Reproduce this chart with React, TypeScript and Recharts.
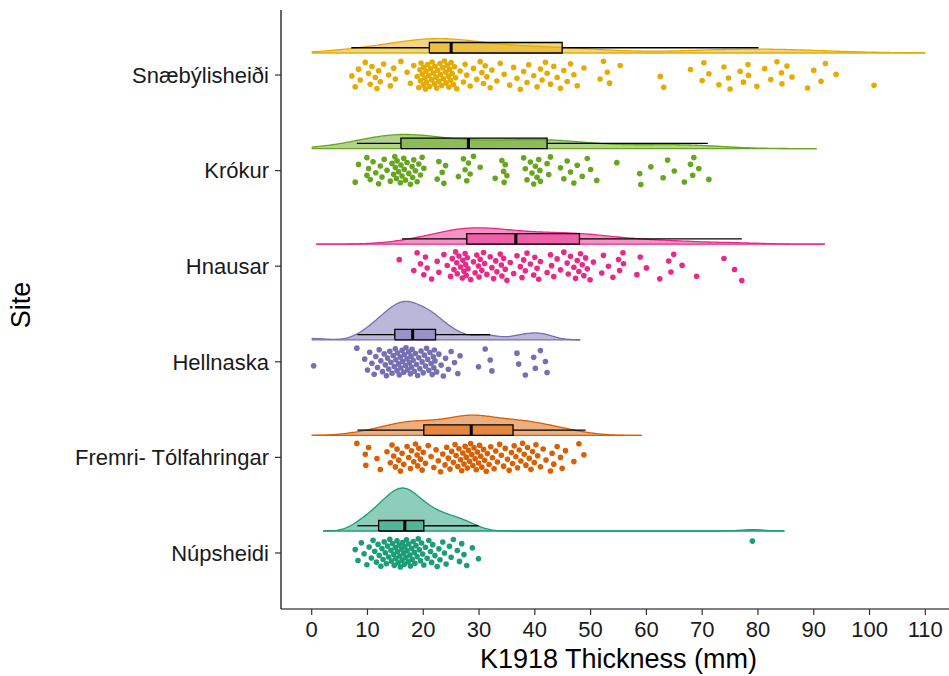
import React from "react";
import { ComposedChart, Area, Line, Scatter, XAxis, YAxis } from "recharts";

// bottom to top, as on the y axis
const SITES = ["Núpsheidi", "Fremri- Tólfahringar", "Hellnaska", "Hnausar", "Krókur", "Snæbýlisheiði"];
const COLORS = ["#1B9E77", "#D95F02", "#7570B3", "#E7298A", "#66A61E", "#E6AB02"];
const X_TICKS = [0, 10, 20, 30, 40, 50, 60, 70, 80, 90, 100, 110];

// K1918 thickness (mm)
const NUP = [
  7.8, 8.3, 8.9, 9.4, 9.9, 10.3, 10.7, 11.0, 11.3, 11.6, 11.9, 12.1, 12.4, 12.6, 12.8, 13.0, 13.2, 13.4, 13.6,
  13.8, 14.0, 14.2, 14.3, 14.5, 14.7, 14.8, 15.0, 15.1, 15.3, 15.4, 15.5, 15.7, 15.8, 15.9, 16.1, 16.2, 16.3,
  16.5, 16.6, 16.7, 16.9, 17.0, 17.1, 17.3, 17.4, 17.6, 17.7, 17.9, 18.0, 18.2, 18.4, 18.5, 18.7, 18.9, 19.1,
  19.3, 19.5, 19.7, 19.9, 20.1, 20.4, 20.7, 21.0, 21.3, 21.5, 21.7, 22.1, 22.5, 22.8, 23.0, 23.5, 23.8, 24.1,
  24.7, 25.0, 25.4, 26.1, 26.5, 26.9, 27.3, 27.8, 28.8, 29.9, 79.0,
];
const FREMRI = [
  8.1, 9.6, 9.7, 10.2, 11.7, 12.3, 13.5, 14.1, 14.4, 14.7, 15.0, 15.3, 15.6, 15.9, 16.2, 16.5, 17.1, 17.4,
  17.7, 17.9, 18.3, 18.6, 18.9, 19.0, 19.2, 19.5, 19.8, 20.0, 20.4, 20.9, 21.4, 21.9, 22.3, 22.7, 23.1, 23.5,
  23.9, 24.2, 24.5, 24.8, 25.1, 25.4, 25.7, 25.9, 26.2, 26.4, 26.7, 26.9, 27.1, 27.3, 27.5, 27.7, 27.9, 28.1,
  28.3, 28.5, 28.7, 28.9, 29.1, 29.3, 29.5, 29.7, 29.9, 30.1, 30.3, 30.5, 30.8, 31.0, 31.3, 31.5, 31.8, 32.1,
  32.4, 32.7, 33.0, 33.3, 33.7, 34.0, 34.4, 34.7, 35.1, 35.4, 35.8, 36.0, 36.3, 36.6, 36.9, 37.2, 37.5, 37.8,
  38.1, 38.4, 38.7, 39.0, 39.3, 39.6, 39.9, 40.2, 40.5, 41.0, 41.5, 42.0, 42.8, 43.1, 43.4, 44.0, 44.6, 44.9,
  45.5, 47.0, 47.9, 48.8,
];
const HELLNASKA = [
  0.35, 8.1, 9.5, 10.0, 10.4, 10.8, 11.2, 11.5, 11.8, 12.1, 12.4, 12.7, 13.0, 13.2, 13.4, 13.6, 13.8, 14.0,
  14.2, 14.4, 14.6, 14.8, 15.0, 15.1, 15.3, 15.4, 15.6, 15.7, 15.9, 16.0, 16.2, 16.3, 16.5, 16.6, 16.8, 16.9,
  17.1, 17.2, 17.4, 17.5, 17.7, 17.8, 17.9, 18.0, 18.2, 18.4, 18.6, 18.8, 19.0, 19.2, 19.4, 19.6, 19.8, 20.0,
  20.2, 20.4, 20.6, 20.8, 21.0, 21.2, 21.4, 21.6, 21.8, 21.9, 22.0, 22.1, 22.4, 22.8, 23.2, 23.6, 24.0, 24.5,
  25.0, 25.6, 26.2, 26.6, 29.9, 31.1, 32.0, 32.3, 36.8, 37.1, 38.3, 39.8, 40.1, 41.0, 41.9, 42.2,
];
const HNAUSAR = [
  15.7, 18.3, 18.9, 19.5, 20.1, 20.4, 20.7, 21.5, 22.5, 22.8, 23.7, 24.3, 24.9, 25.2, 25.5, 25.8, 26.0, 26.1,
  26.4, 26.7, 27.0, 27.1, 27.3, 27.5, 27.6, 27.7, 27.9, 28.0, 28.5, 29.0, 29.3, 29.6, 29.9, 30.0, 30.2, 30.5,
  30.8, 31.0, 31.4, 32.0, 32.3, 32.6, 33.0, 33.2, 33.8, 34.0, 34.1, 34.4, 34.7, 35.0, 35.6, 36.2, 36.8, 37.4,
  37.7, 38.0, 38.3, 38.6, 39.2, 39.8, 40.0, 40.4, 40.7, 41.0, 42.2, 42.8, 43.0, 43.4, 44.0, 44.6, 45.2, 45.8,
  46.0, 46.4, 47.0, 47.3, 47.6, 47.9, 48.2, 48.5, 48.8, 49.1, 49.4, 49.9, 50.5, 52.0, 52.3, 53.2, 54.0, 55.0,
  55.2, 55.8, 55.9, 58.3, 58.9, 60.0, 62.4, 64.0, 64.4, 64.9, 66.4, 69.0, 73.9, 75.8, 77.1,
];
const KROKUR = [
  7.8, 8.4, 9.9, 9.9, 10.2, 10.5, 11.0, 11.5, 12.0, 12.3, 12.6, 13.0, 13.5, 14.1, 14.4, 14.7, 14.9, 15.0,
  15.2, 15.3, 15.6, 15.9, 16.0, 16.2, 16.5, 16.6, 16.8, 17.1, 17.4, 17.7, 18.0, 18.1, 18.3, 18.6, 18.9, 19.2,
  19.5, 19.8, 20.1, 22.5, 22.8, 23.4, 23.7, 24.0, 26.3, 27.2, 27.5, 27.8, 28.1, 28.4, 29.0, 30.2, 32.9, 34.1,
  34.4, 34.5, 34.7, 35.0, 38.0, 38.3, 38.6, 39.2, 39.5, 39.8, 40.1, 40.4, 40.7, 40.9, 41.0, 42.2, 42.5, 42.8,
  44.6, 45.2, 45.8, 46.4, 47.0, 47.6, 48.5, 49.4, 50.0, 51.1, 54.7, 58.8, 59.0, 60.8, 63.0, 63.8, 65.0, 66.8,
  67.9, 68.3, 68.5, 69.4, 71.2,
];
const SNAE = [
  7.2, 7.8, 8.4, 8.7, 9.6, 10.2, 10.5, 10.8, 11.4, 11.7, 12.0, 12.3, 12.9, 13.8, 14.1, 14.7, 15.0, 16.0, 17.1,
  17.7, 18.3, 18.9, 19.2, 19.4, 19.5, 19.6, 19.8, 20.0, 20.1, 20.3, 20.4, 20.5, 20.6, 20.8, 21.0, 21.1, 21.3,
  21.5, 21.6, 21.8, 22.0, 22.1, 22.3, 22.4, 22.6, 22.8, 23.0, 23.1, 23.3, 23.5, 23.6, 23.8, 24.0, 24.1, 24.3,
  24.5, 24.6, 24.7, 24.9, 25.0, 25.2, 25.4, 25.6, 25.8, 26.0, 26.6, 27.2, 27.5, 27.8, 28.4, 29.0, 29.6, 30.2,
  30.5, 30.8, 31.1, 31.4, 32.0, 32.3, 33.2, 33.8, 34.5, 35.5, 36.2, 36.8, 37.4, 38.0, 38.6, 38.9, 39.8, 40.4,
  41.0, 41.3, 41.9, 42.2, 42.8, 43.4, 44.0, 44.6, 45.2, 45.8, 46.4, 47.0, 47.6, 48.8, 51.7, 52.3, 53.0, 53.4,
  55.3, 62.5, 63.1, 67.9, 70.0, 70.3, 71.2, 73.0, 73.9, 74.7, 75.0, 76.8, 77.4, 78.2, 78.3, 79.8, 81.2, 82.3,
  83.4, 84.2, 84.3, 85.2, 86.1, 88.9, 90.0, 91.3, 92.1, 94.0, 100.8,
];
const VALUES = [NUP, FREMRI, HELLNASKA, HNAUSAR, KROKUR, SNAE];

// boxplot stats: [lower whisker, q1, median, q3, upper whisker]
const BOXES = [
  [8.2, 12.0, 16.7, 20.1, 29.9],
  [8.2, 20.1, 28.6, 36.1, 49.1],
  [8.2, 14.9, 18.1, 22.2, 32.0],
  [16.2, 27.8, 36.6, 48.0, 77.1],
  [8.1, 16.0, 28.1, 42.2, 71.0],
  [7.1, 21.1, 25.0, 44.9, 80.1],
];

const X_LIMITS = [0, 110];
const BASE_NUDGE = 0.23; // violin/box sit above each site
const BOX_H = 0.11;
const VIOLIN_MAX = 0.45;
const JITTER = 0.15;
const FONT = "'Liberation Sans', Arial, sans-serif";

function quantile(s: number[], p: number) {
  const h = (s.length - 1) * p;
  const lo = Math.floor(h);
  const hi = Math.min(lo + 1, s.length - 1);
  return s[lo] + (h - lo) * (s[hi] - s[lo]);
}

// R's bw.nrd0
function bandwidth(v: number[]) {
  const s = [...v].sort((a, b) => a - b);
  const mean = v.reduce((a, b) => a + b, 0) / v.length;
  const sd = Math.sqrt(v.reduce((a, b) => a + (b - mean) ** 2, 0) / (v.length - 1));
  const iqr = quantile(s, 0.75) - quantile(s, 0.25);
  return 0.9 * Math.min(sd, iqr / 1.34) * Math.pow(v.length, -0.2);
}

// gaussian kde, cut = 3 bandwidths, clipped to the x scale limits
function density(v: number[], n = 220) {
  const bw = bandwidth(v);
  const lo = Math.max(X_LIMITS[0], Math.min(...v) - 3 * bw);
  const hi = Math.min(X_LIMITS[1], Math.max(...v) + 3 * bw);
  const out: { x: number; d: number }[] = [];
  for (let i = 0; i < n; i++) {
    const x = lo + ((hi - lo) * i) / (n - 1);
    let d = 0;
    for (const p of v) d += Math.exp(-0.5 * ((x - p) / bw) ** 2);
    out.push({ x, d: d / (v.length * bw * Math.sqrt(2 * Math.PI)) });
  }
  return out;
}

const DENS = VALUES.map((v) => density(v));
const DMAX = Math.max(...DENS.flatMap((g) => g.map((p) => p.d)));

// evenly spread, repeatable vertical jitter
const jit = (i: number, g: number) => ((((i + 1) * 0.6180339887 + g * 0.37) % 1) - 0.5) * 2 * JITTER;

const tickStyle = { fontSize: 22, fill: "#1a1a1a", fontFamily: FONT };

export default function App() {
  const series: React.ReactNode[] = [];
  VALUES.forEach((vals, g) => {
    const site = g + 1;
    const color = COLORS[g];
    const b0 = site + BASE_NUDGE;
    const b1 = b0 + BOX_H;
    const bm = (b0 + b1) / 2;
    const [wl, q1, med, q3, wh] = BOXES[g];
    const violin = DENS[g].map((p) => ({ x: p.x, r: [b0, b0 + (p.d / DMAX) * VIOLIN_MAX] }));
    series.push(
      <Area key={`v${g}`} data={violin} dataKey="r" type="linear" stroke={color} strokeWidth={1.3}
        fill={color} fillOpacity={0.5} dot={false} activeDot={false} isAnimationActive={false} />,
      <Area key={`bf${g}`} data={[{ x: q1, r: [b0, b1] }, { x: q3, r: [b0, b1] }]} dataKey="r" type="linear"
        stroke="none" fill={color} fillOpacity={0.5} dot={false} activeDot={false} isAnimationActive={false} />,
    );
    const seg = (k: string, pts: { x: number; y: number }[], w = 1.3) => (
      <Line key={k} data={pts} dataKey="y" type="linear" stroke="#000" strokeWidth={w}
        dot={false} activeDot={false} isAnimationActive={false} />
    );
    series.push(
      seg(`wl${g}`, [{ x: wl, y: bm }, { x: q1, y: bm }]),
      seg(`wh${g}`, [{ x: q3, y: bm }, { x: wh, y: bm }]),
      seg(`bx${g}`, [{ x: q1, y: b0 }, { x: q3, y: b0 }, { x: q3, y: b1 }, { x: q1, y: b1 }, { x: q1, y: b0 }]),
      seg(`md${g}`, [{ x: med, y: b0 }, { x: med, y: b1 }], 3),
    );
    series.push(
      <Scatter key={`p${g}`} data={vals.map((v, i) => ({ x: v, y: site + jit(i, g) }))} fill={color}
        isAnimationActive={false}
        shape={(p: any) => <circle cx={p.cx} cy={p.cy} r={2.8} fill={color} />} />,
    );
  });

  return (
    <div style={{ width: 949, height: 676, overflow: "hidden", background: "#fff" }}>
      <style>{"body{margin:0}"}</style>
      <ComposedChart width={956} height={676} margin={{ top: 10, right: 0, bottom: 0, left: 0 }}>
        <XAxis dataKey="x" type="number" domain={[-5.5, 115.5]} allowDataOverflow ticks={X_TICKS}
          tick={tickStyle} tickSize={6} tickMargin={6} height={67}
          axisLine={{ stroke: "#000", strokeWidth: 1.2 }} tickLine={{ stroke: "#333", strokeWidth: 1.2 }}
          label={{
            content: (props: any) => {
              const vb = props.viewBox ?? { x: 281, y: 609, width: 675, height: 67 };
              return (
                <text x={vb.x + vb.width / 2} y={vb.y + 59} textAnchor="middle" fontSize={27}
                  fontFamily={FONT} fill="#000">K1918 Thickness (mm)</text>
              );
            },
          }} />
        <YAxis dataKey="y" type="number" domain={[0.414, 6.68]} allowDataOverflow ticks={[1, 2, 3, 4, 5, 6]}
          tickFormatter={(v: number) => SITES[v - 1]} tick={tickStyle} tickSize={6} tickMargin={6} width={281}
          axisLine={{ stroke: "#000", strokeWidth: 1.2 }} tickLine={{ stroke: "#333", strokeWidth: 1.2 }}
          label={{
            content: (props: any) => {
              const vb = props.viewBox ?? { x: 0, y: 10, width: 281, height: 599 };
              const cx = vb.x + 30;
              const cy = 305;
              return (
                <text x={cx} y={cy} transform={`rotate(-90, ${cx}, ${cy})`} textAnchor="middle"
                  fontSize={27} fontFamily={FONT} fill="#000">Site</text>
              );
            },
          }} />
        {series}
      </ComposedChart>
    </div>
  );
}
